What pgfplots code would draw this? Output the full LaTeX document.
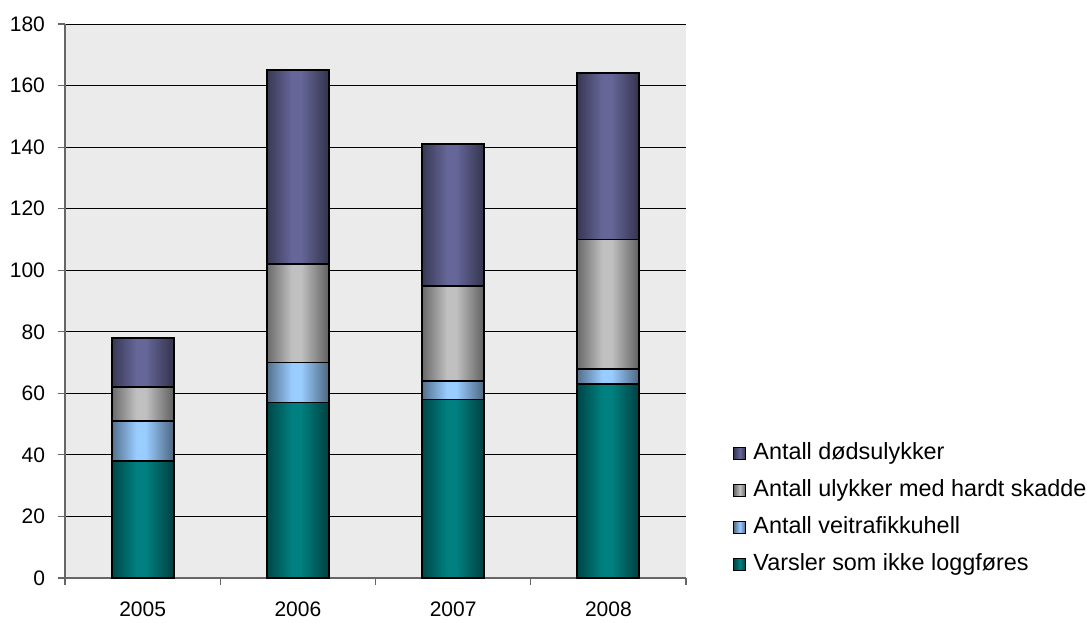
\documentclass[border=0pt]{standalone}
\usepackage{fontspec}
\setmainfont{Liberation Sans}
\usepackage{pgfplots}
\pgfplotsset{compat=1.18}

\definecolor{cVarsel}{HTML}{008080}
\definecolor{cUhell}{HTML}{99CCFF}
\definecolor{cSkadde}{HTML}{C0C0C0}
\definecolor{cDod}{HTML}{666699}

% Each series is one path, so the cylinder-like shine of the four bars is
% laid out in one horizontal shading: the path spans 25bp..75bp of it.
\newcommand\barshine[1]{%
  \pgfdeclarehorizontalshading{shine-#1}{100bp}{%
    color(0bp)=(#1!55!black);
    color(25bp)=(#1!55!black);    color(27.35bp)=(#1);
    color(28.23bp)=(#1);          color(30.874bp)=(#1!50!black);
    color(39.709bp)=(#1!55!black); color(42.059bp)=(#1);
    color(42.939bp)=(#1);         color(45.583bp)=(#1!50!black);
    color(54.417bp)=(#1!55!black); color(56.767bp)=(#1);
    color(57.647bp)=(#1);         color(60.291bp)=(#1!50!black);
    color(69.126bp)=(#1!55!black); color(71.476bp)=(#1);
    color(72.356bp)=(#1);         color(75bp)=(#1!50!black);
    color(100bp)=(#1!50!black)}}
\barshine{cVarsel}
\barshine{cUhell}
\barshine{cSkadde}
\barshine{cDod}

\pgfplotsset{
  shadedbar/.style={
    draw=black, line width=0.9pt,
    shading=shine-#1, shading angle=0,
    legend image code/.code={%
      \draw[##1, line width=0.5pt, left color=#1!55!black,
            right color=#1!50!black, middle color=#1]
        (0pt,-3pt) rectangle (6pt,3pt);}
  }
}

\begin{document}
\begin{tikzpicture}[font=\fontsize{10.5}{12.6}\selectfont]
\useasboundingbox (-32.5pt,-22pt) rectangle (511pt,289pt);
\begin{axis}[
  at={(0pt,0pt)}, anchor=south west,
  scale only axis, width=310.5pt, height=277pt,
  ybar stacked, bar width=31pt,
  xmin=-0.5, xmax=3.5, ymin=0, ymax=180,
  ytick={0,20,...,180},
  xtick={0,1,2,3}, xticklabels={2005,2006,2007,2008},
  minor xtick={-0.5,0.5,1.5,2.5,3.5},
  major x tick style={draw=none},
  xtick pos=bottom, ytick pos=left,
  axis x line*=bottom, axis y line*=left,
  axis line style={black!60, line width=0.6pt},
  tick align=outside, major tick length=3.5pt, minor tick length=3.5pt,
  tick style={black!60, line width=0.6pt},
  ymajorgrids, grid style={black, line width=0.5pt},
  /pgf/number format/assume math mode=true,
  axis background/.style={fill=black!8},
  yticklabel style={xshift=-3pt},
  xticklabel style={yshift=-5pt},
  reverse legend,
  legend style={
    at={(1.0757,0.2445)}, anchor=north west,
    draw=none, fill=none, inner sep=0pt,
    row sep=7.5pt, column sep=3.5pt,
    font=\fontsize{11.7}{14}\selectfont,
    nodes={inner sep=0pt, anchor=west, text height=8.5pt, text depth=2.5pt},
  },
  legend cell align=left,
]
\addplot[shadedbar=cVarsel] coordinates {(0,38) (1,57) (2,58) (3,63)};
\addplot[shadedbar=cUhell] coordinates {(0,13) (1,13) (2,6) (3,5)};
\addplot[shadedbar=cSkadde] coordinates {(0,11) (1,32) (2,31) (3,42)};
\addplot[shadedbar=cDod] coordinates {(0,16) (1,63) (2,46) (3,54)};
\legend{Varsler som ikke loggføres, Antall veitrafikkuhell, Antall ulykker med hardt skadde, Antall dødsulykker}
\end{axis}
\end{tikzpicture}
\end{document}
